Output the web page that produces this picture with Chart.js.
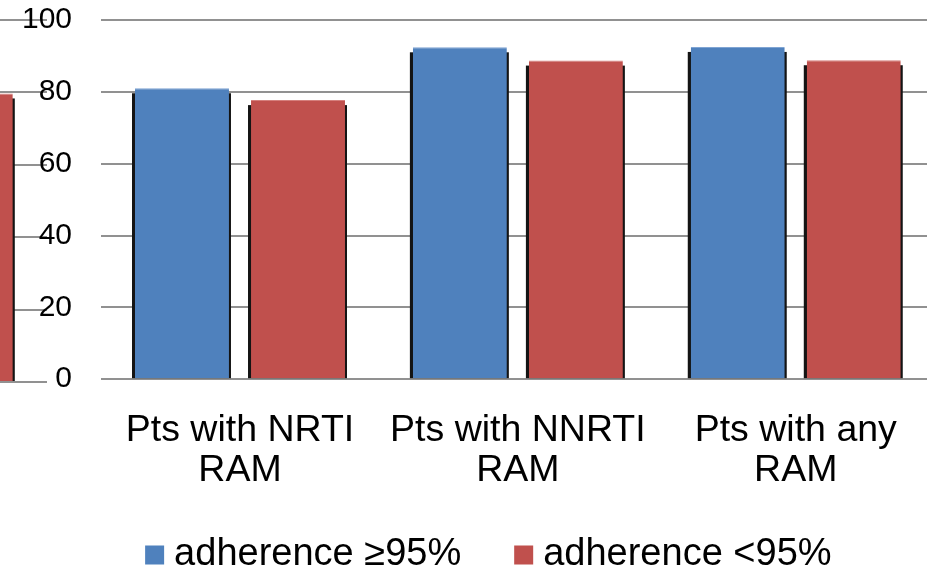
<!DOCTYPE html>
<html>
<head>
<meta charset="utf-8">
<script src="https://cdn.jsdelivr.net/npm/chart.js@4.4.1/dist/chart.umd.min.js"></script>
<style>
  html, body { margin: 0; padding: 0; background: #fff; overflow: hidden; width: 927px; height: 572px; }
  #wrap { position: relative; width: 927px; height: 572px; overflow: hidden; }
  #prev { position: absolute; left: -240px; top: 0; }
  #main { position: absolute; left: -7px; top: -27px; }
</style>
</head>
<body>
<div id="wrap">
  <canvas id="prev" width="300" height="400"></canvas>
  <canvas id="main" width="967" height="660"></canvas>
</div>
<script>
// Categories and values (% of patients)
const categories = [['Pts with NRTI', 'RAM'], ['Pts with NNRTI', 'RAM'], ['Pts with any', 'RAM']];
const seriesNames = ['adherence \u226595%', 'adherence <95%'];
const highAdherence = [81.0, 92.4, 92.5];
const lowAdherence = [77.7, 88.7, 88.8];

// Neighbouring panel: only the last group's <95% bar reaches into view
const prevCategories = [''];
const prevHigh = [null];
const prevLow = [79.6];

const yTicks = [0, 20, 40, 60, 80, 100];

const FONT = "'Liberation Sans', Arial, Helvetica, sans-serif";
const BLUE = '#4f81bd', BLUE_HI = '#7fa4d3';
const RED = '#c0504d', RED_HI = '#d57f7c';
const GRID = '#919191';

const yMin = yTicks[0], yMax = yTicks[yTicks.length - 1], yStep = yTicks[1] - yTicks[0];

// Dark drop shadow behind every bar
const barShadow = {
  id: 'barShadow',
  beforeDatasetsDraw(chart, args, opts) {
    const ctx = chart.ctx;
    ctx.save();
    ctx.fillStyle = opts.color;
    ctx.filter = 'blur(0.6px)';
    chart.data.datasets.forEach((ds, i) => {
      chart.getDatasetMeta(i).data.forEach(el => {
        if (el.skip) return;
        const { x, y, base, width } = el.getProps(['x', 'y', 'base', 'width'], true);
        if (!isFinite(y)) return;
        ctx.fillRect(x - width / 2 - opts.left, y + opts.drop, width + opts.left + opts.right, base - y - opts.drop);
      });
    });
    ctx.restore();
  }
};

// Moves the legend box after layout
const legendNudge = {
  id: 'legendNudge',
  afterLayout(chart, args, opts) {
    const lg = chart.legend;
    if (!lg) return;
    lg.left += opts.dx; lg.right += opts.dx;
    lg.top += opts.dy; lg.bottom += opts.dy;
  }
};

const barGeometry = { categoryPercentage: 0.835, barPercentage: 0.81 };
const topEdge = { top: 1, left: 0, right: 0, bottom: 0 };

function makeDatasets(hi, lo) {
  return [
    { label: seriesNames[0], data: hi, backgroundColor: BLUE, borderColor: BLUE_HI, borderWidth: topEdge, ...barGeometry },
    { label: seriesNames[1], data: lo, backgroundColor: RED, borderColor: RED_HI, borderWidth: topEdge, ...barGeometry }
  ];
}

const yScaleBase = {
  min: yMin, max: yMax,
  grid: { color: GRID, lineWidth: 2, drawTicks: false },
  border: { display: false }
};

// Neighbouring panel (mostly outside the view)
new Chart(document.getElementById('prev'), {
  type: 'bar',
  data: { labels: prevCategories, datasets: makeDatasets(prevHigh, prevLow) },
  options: {
    responsive: false, animation: false, devicePixelRatio: 1,
    layout: { padding: { left: 7, right: 13, top: 19.5, bottom: 18 } },
    scales: {
      x: { display: false },
      y: { ...yScaleBase, ticks: { display: false, stepSize: yStep } }
    },
    plugins: {
      legend: { display: false },
      tooltip: { enabled: false },
      barShadow: { color: '#141414', left: 3, right: 2, drop: 5 }
    }
  },
  plugins: [barShadow]
});

// Main panel
new Chart(document.getElementById('main'), {
  type: 'bar',
  data: { labels: categories, datasets: makeDatasets(highAdherence, lowAdherence) },
  options: {
    responsive: false, animation: false, devicePixelRatio: 1,
    layout: { padding: { left: 0, right: 25.3, top: 0, bottom: 0 } },
    scales: {
      x: {
        grid: { display: false, drawTicks: false },
        border: { display: false },
        ticks: {
          color: '#000', padding: 31.9, maxRotation: 0, autoSkip: false,
          font: { family: FONT, size: 37.5, lineHeight: 40 / 37.5 }
        }
      },
      y: {
        ...yScaleBase,
        ticks: { stepSize: yStep, color: '#000', padding: 29, font: { family: FONT, size: 30 } }
      }
    },
    plugins: {
      legend: {
        position: 'bottom',
        labels: {
          color: '#000',
          font: { family: FONT, size: 38 },
          usePointStyle: true, pointStyle: 'rect',
          boxWidth: 1, boxHeight: 19,
          padding: 62,
          generateLabels(chart) {
            return Chart.defaults.plugins.legend.labels.generateLabels(chart)
              .map(it => ({ ...it, strokeStyle: it.fillStyle, lineWidth: 0, pointStyle: 'rect' }));
          }
        }
      },
      tooltip: { enabled: false },
      barShadow: { color: '#141414', left: 3, right: 2, drop: 5 },
      legendNudge: { dx: 29, dy: -49 }
    }
  },
  plugins: [barShadow, legendNudge]
});
</script>
</body>
</html>
